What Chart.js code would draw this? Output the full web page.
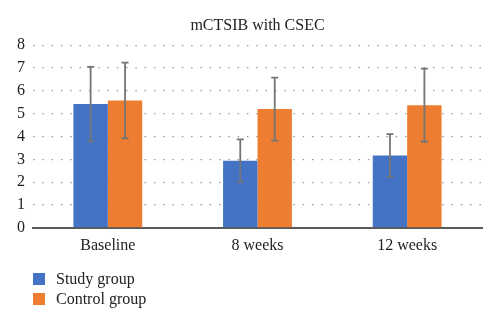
<!DOCTYPE html>
<html>
<head>
<meta charset="utf-8">
<script src="https://cdn.jsdelivr.net/npm/chart.js@4.4.1/dist/chart.umd.min.js"></script>
<style>
  html, body { margin: 0; padding: 0; background: #fff; }
  #wrap { position: relative; width: 500px; height: 326px; }
  #legend { position: absolute; left: 33px; top: 269px; font-family: "Liberation Serif", serif; font-size: 16px; color: #222; }
  #legend div { display: flex; align-items: center; height: 20px; }
  #legend span.box { width: 12px; height: 12px; margin-right: 11px; display: inline-block; }
</style>
</head>
<body>
<div id="wrap">
  <canvas id="chart" width="500" height="326"></canvas>
  <div id="legend"></div>
</div>
<script>
const categories = ['Baseline', '8 weeks', '12 weeks'];
const studyMeans = [5.42, 2.94, 3.17];
const studyErr = [1.63, 0.93, 0.93];
const controlMeans = [5.58, 5.2, 5.37];
const controlErr = [1.66, 1.38, 1.6];

const serif = '"Liberation Serif", "Times New Roman", serif';

// error bars drawn through the y scale
const errorBars = {
  id: 'errorBars',
  afterDatasetsDraw(chart) {
    const ctx = chart.ctx;
    const y = chart.scales.y;
    ctx.save();
    ctx.strokeStyle = '#757575';
    ctx.lineWidth = 1.8;
    chart.data.datasets.forEach((ds, i) => {
      const meta = chart.getDatasetMeta(i);
      meta.data.forEach((bar, j) => {
        const v = ds.data[j], e = ds.errors[j];
        const top = y.getPixelForValue(v + e);
        const bot = y.getPixelForValue(v - e);
        ctx.beginPath();
        ctx.moveTo(bar.x, top); ctx.lineTo(bar.x, bot);
        ctx.moveTo(bar.x - 3.5, top); ctx.lineTo(bar.x + 3.5, top);
        ctx.moveTo(bar.x - 3.5, bot); ctx.lineTo(bar.x + 3.5, bot);
        ctx.stroke();
      });
    });
    ctx.restore();
  }
};

const chart = new Chart(document.getElementById('chart').getContext('2d'), {
  type: 'bar',
  data: {
    labels: categories,
    datasets: [
      { label: 'Study group', data: studyMeans, errors: studyErr, backgroundColor: '#4472C4' },
      { label: 'Control group', data: controlMeans, errors: controlErr, backgroundColor: '#ED7D31' }
    ]
  },
  options: {
    responsive: false,
    animation: false,
    layout: { padding: { left: 9, right: 18, top: 0, bottom: 63 } },
    datasets: { bar: { categoryPercentage: 0.46, barPercentage: 1 } },
    plugins: {
      legend: { display: false },
      tooltip: { enabled: false },
      title: {
        display: true,
        fullSize: false,
        text: 'mCTSIB with CSEC',
        color: '#222',
        font: { family: serif, size: 16, weight: 'normal' },
        padding: { top: 16, bottom: 10 }
      }
    },
    scales: {
      x: {
        grid: { display: false, drawTicks: false },
        border: { display: true, color: '#595959', width: 2 },
        ticks: { color: '#222', padding: 8, font: { family: serif, size: 16 } }
      },
      y: {
        min: 0, max: 8,
        ticks: { stepSize: 1, color: '#222', padding: 8, font: { family: serif, size: 16 } },
        grid: { color: '#9a9a9a', lineWidth: 1.3, drawTicks: false },
        border: { display: false, dash: [1.5, 7.8] }
      }
    }
  },
  plugins: [errorBars]
});

const legend = document.getElementById('legend');
chart.data.datasets.forEach(ds => {
  const row = document.createElement('div');
  const box = document.createElement('span');
  box.className = 'box';
  box.style.background = ds.backgroundColor;
  row.appendChild(box);
  row.appendChild(document.createTextNode(ds.label));
  legend.appendChild(row);
});
</script>
</body>
</html>
